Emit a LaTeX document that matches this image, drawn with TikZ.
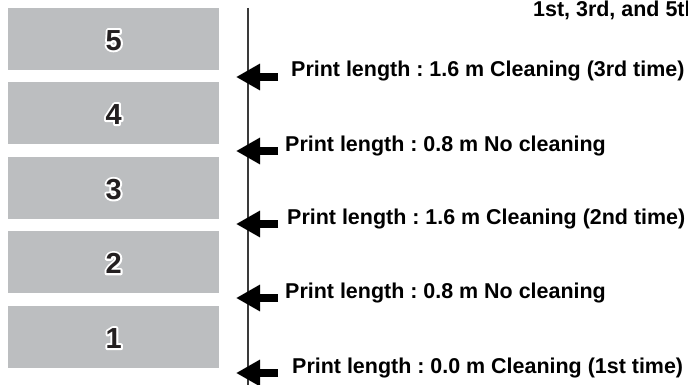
\documentclass[tikz,border=0pt]{standalone}
\usepackage{fontspec}
\setmainfont{Liberation Sans}
\usetikzlibrary{arrows.meta}
\definecolor{boxgray}{HTML}{BCBEC0}
\definecolor{ink}{HTML}{231F20}
\definecolor{rulegray}{HTML}{3A3A3A}
\frenchspacing
\newcommand\strokedonly[1]{%
  \special{pdf:literal direct 1 Tr 4 w 1 J 1 j 1 G}#1\special{pdf:literal direct 0 Tr}%
}
\tikzset{
  numbox/.style={fill=boxgray, draw=none, minimum width=211pt, minimum height=62pt, inner sep=0pt, anchor=north west},
  digit/.style={font=\fontsize{29}{32}\selectfont\bfseries, inner sep=0pt, text=ink},
  lentext/.style={anchor=base west, font=\fontsize{21.45}{24}\selectfont\bfseries\frenchspacing, inner sep=0pt, text=black},
  bigarrow/.style={-{Triangle[length=24pt,width=25pt]}, line width=8pt, black},
}
\begin{document}
\begin{tikzpicture}[x=1pt,y=-1pt]
\useasboundingbox (0,0) rectangle (688,385);
% vertical rule
\coordinate (rtop) at (247.5,8);
\coordinate (rbot) at (247.5,385);
\draw[line width=2pt, rulegray] (rtop) -- (rbot);
% boxes with numbers
\foreach \n/\y in {5/8,4/82,3/157,2/231,1/306}{
  \node[numbox] (b\n) at (8,\y) {};
  \node[digit, text=white] (h\n) at ([yshift=-1pt]b\n.center) {\strokedonly{\n}};
  \node[digit] (d\n) at (h\n.center) {\n};
}
% header
\node[lentext] (hdr) at (533,17) {1st, 3rd, and 5th};
% rows
\foreach \i/\y/\x/\t in {
  a/77/291/{Print length : 1.6 m Cleaning (3rd time)},
  b/151/285/{Print length : 0.8 m No cleaning},
  c/224/287/{Print length : 1.6 m Cleaning (2nd time)},
  d/298/285/{Print length : 0.8 m No cleaning},
  e/373/292/{Print length : 0.0 m Cleaning (1st time)}}{
  \node[lentext] (t\i) at (\x,\y) {\t};
  \coordinate (tip\i) at (236,\y);
  \coordinate (tail\i) at (278,\y);
  \draw[bigarrow] (tail\i) -- (tip\i);
}
\end{tikzpicture}
\end{document}
